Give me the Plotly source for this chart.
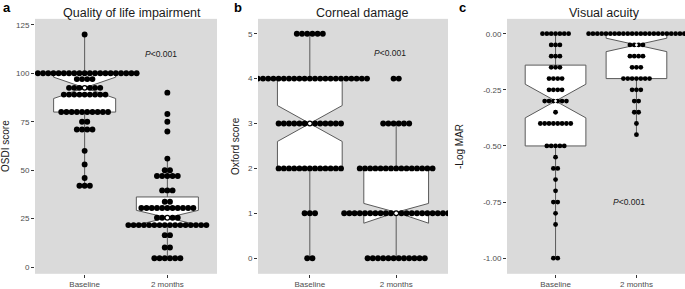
import plotly.graph_objects as go

# ---------------- data ----------------
groups = ["Baseline", "2 months"]
group_pos = [0, 1]

# Panel a: OSDI score (dot rows: value, count)
osdi_base_vals = [120, 100, 97, 92.5, 89, 80, 75, 71, 60, 53, 46, 42]
osdi_base_counts = [1, 21, 4, 7, 9, 10, 2, 4, 1, 1, 1, 3]
osdi_2m_vals = [90, 79, 75, 70, 56, 50, 47, 39.6, 33.7, 30.5, 25.5, 21.7, 16.5, 10.1, 4.6]
osdi_2m_counts = [1, 1, 1, 1, 1, 2, 5, 3, 2, 11, 5, 16, 2, 2, 6]
osdi_q1 = [80, 21.7]
osdi_med = [92.5, 25.5]
osdi_q3 = [100, 36.2]
osdi_lf = [42, 4.6]
osdi_uf = [120, 56]
osdi_notch = [5.5, 3.8]
osdi_ticks = [0, 25, 50, 75, 100, 125]

# Panel b: Oxford score
oxf_base_vals = [5, 4, 3, 2, 1, 0]
oxf_base_counts = [6, 23, 13, 13, 3, 2]
oxf_2m_vals = [4, 3, 2, 1, 0]
oxf_2m_counts = [2, 6, 15, 21, 12]
oxf_q1 = [2, 1]
oxf_med = [3, 1]
oxf_q3 = [4, 2]
oxf_lf = [0, 0]
oxf_uf = [5, 3]
oxf_notch = [0.4, 0.22]
oxf_ticks = [0, 1, 2, 3, 4, 5]

# Panel c: -Log MAR
va_base_vals = [0, -0.05, -0.10, -0.15, -0.20, -0.25, -0.30, -0.35, -0.40, -0.50,
                -0.55, -0.60, -0.65, -0.70, -0.75, -0.80, -0.85, -1.00]
va_base_counts = [7, 3, 3, 3, 4, 4, 6, 1, 8, 5, 1, 2, 1, 1, 2, 1, 1, 2]
va_2m_vals = [0, -0.05, -0.10, -0.15, -0.20, -0.25, -0.30, -0.35, -0.40, -0.45]
va_2m_counts = [23, 4, 4, 3, 7, 3, 2, 2, 1, 1]
va_q1 = [-0.5, -0.2]
va_med = [-0.3, -0.05]
va_q3 = [-0.14, 0]
va_lf = [-1.0, -0.45]
va_uf = [0, 0]
va_notch = [0.075, 0.03]
va_ticks = [0, -0.25, -0.5, -0.75, -1.0]
va_ticktext = ["0.00", "-0.25", "-0.50", "-0.75", "-1.00"]

titles = ["Quality of life impairment", "Corneal damage", "Visual acuity"]
letters = ["a", "b", "c"]
ytitles = ["OSDI score", "Oxford score", "-Log MAR"]
p_text = "<i>P</i>&lt;0.001"

# ---------------- layout geometry ----------------
W, H = 685, 289
FONT = "Liberation Sans, Arial, sans-serif"
x_px = [(35, 217), (258, 448), (507, 685)]
y_top, y_bot = 19, 275.7
XR = [-0.6, 1.6]
yranges = [[-3.43, 128.07], [-0.347, 5.33], [-1.0695, 0.066]]
dot_px = [5.2, 5.2, 4.35]
dot_size = [5.9, 5.9, 4.8]
white_size = [3.4, 3.4, 2.8]
p_pos = [(0.92, 110), (0.93, 4.57), (0.91, -0.75)]
title_x = [131.5, 361.5, 604.5]
letter_x = [1, 231.5, 456.5]
ytitle_x = [6, 236, 460]

BOXLINE = "#5a5a5a"


def swarm(center, vals, counts, step):
    xs, ys = [], []
    for v, n in zip(vals, counts):
        for i in range(n):
            xs.append(center + (i - (n - 1) / 2) * step)
            ys.append(v)
    return xs, ys


panels = [
    dict(rows=[(osdi_base_vals, osdi_base_counts), (osdi_2m_vals, osdi_2m_counts)],
         q1=osdi_q1, med=osdi_med, q3=osdi_q3, lf=osdi_lf, uf=osdi_uf, notch=osdi_notch,
         ticks=osdi_ticks, ticktext=[str(t) for t in osdi_ticks]),
    dict(rows=[(oxf_base_vals, oxf_base_counts), (oxf_2m_vals, oxf_2m_counts)],
         q1=oxf_q1, med=oxf_med, q3=oxf_q3, lf=oxf_lf, uf=oxf_uf, notch=oxf_notch,
         ticks=oxf_ticks, ticktext=[str(t) for t in oxf_ticks]),
    dict(rows=[(va_base_vals, va_base_counts), (va_2m_vals, va_2m_counts)],
         q1=va_q1, med=va_med, q3=va_q3, lf=va_lf, uf=va_uf, notch=va_notch,
         ticks=va_ticks, ticktext=va_ticktext),
]

fig = go.Figure()
layout = dict(
    width=W, height=H, autosize=False,
    margin=dict(l=0, r=0, t=0, b=0, pad=0),
    paper_bgcolor="white", plot_bgcolor="#dadada",
    showlegend=False, font=dict(family=FONT, color="#333333"),
    annotations=[],
)

for k, p in enumerate(panels):
    sfx = "" if k == 0 else str(k + 1)
    xa, ya = "x" + sfx, "y" + sfx
    x0, x1 = x_px[k]
    px_per_unit = (x1 - x0) / (XR[1] - XR[0])
    step = dot_px[k] / px_per_unit

    fig.add_trace(go.Box(
        x=group_pos, q1=p["q1"], median=p["med"], q3=p["q3"],
        lowerfence=p["lf"], upperfence=p["uf"], notchspan=p["notch"],
        notched=True, notchwidth=0.5, width=0.75, whiskerwidth=0,
        boxpoints=False, fillcolor="white",
        line=dict(color=BOXLINE, width=1), xaxis=xa, yaxis=ya, hoverinfo="skip",
    ))
    for gi, (vals, counts) in enumerate(p["rows"]):
        xs, ys = swarm(group_pos[gi], vals, counts, step)
        fig.add_trace(go.Scatter(
            x=xs, y=ys, mode="markers", xaxis=xa, yaxis=ya,
            marker=dict(color="black", size=dot_size[k], line=dict(width=0)),
            hoverinfo="skip",
        ))
    fig.add_trace(go.Scatter(
        x=group_pos, y=p["med"], mode="markers", xaxis=xa, yaxis=ya,
        marker=dict(color="white", size=white_size[k], line=dict(width=0)),
        hoverinfo="skip",
    ))

    common = dict(showgrid=False, zeroline=False, showline=False,
                  ticks="outside", ticklen=3, tickwidth=1, tickcolor="#333333",
                  tickfont=dict(size=8, color="#4d4d4d", family=FONT), fixedrange=True)
    layout["xaxis" + sfx] = dict(
        domain=[x0 / W, x1 / W], range=XR, anchor=ya,
        tickmode="array", tickvals=group_pos, ticktext=groups, **common)
    layout["yaxis" + sfx] = dict(
        domain=[1 - y_bot / H, 1 - y_top / H], range=yranges[k], anchor=xa,
        tickmode="array", tickvals=p["ticks"], ticktext=p["ticktext"], **common)

    ann = layout["annotations"]
    ann.append(dict(text=titles[k], xref="paper", yref="paper", x=title_x[k] / W,
                    y=1 - 13 / H, xanchor="center", yanchor="middle", showarrow=False,
                    font=dict(size=12.5, color="#1a1a1a", family=FONT)))
    ann.append(dict(text="<b>" + letters[k] + "</b>", xref="paper", yref="paper",
                    x=letter_x[k] / W, y=1 - 8 / H, xanchor="left", yanchor="middle",
                    showarrow=False, font=dict(size=13, color="black", family=FONT)))
    ann.append(dict(text=ytitles[k], xref="paper", yref="paper", x=ytitle_x[k] / W,
                    y=1 - 147 / H, xanchor="center", yanchor="middle", textangle=-90,
                    showarrow=False, font=dict(size=10, color="#1a1a1a", family=FONT)))
    ann.append(dict(text=p_text, xref=xa, yref=ya, x=p_pos[k][0], y=p_pos[k][1],
                    xanchor="center", yanchor="middle", showarrow=False,
                    font=dict(size=8.5, color="#1a1a1a", family=FONT)))

fig.update_layout(**layout)
fig.write_html(
    "out.html",
    config={"displayModeBar": False, "staticPlot": True},
    post_script="document.body.style.margin='0px';document.body.style.padding='0px';",
)
